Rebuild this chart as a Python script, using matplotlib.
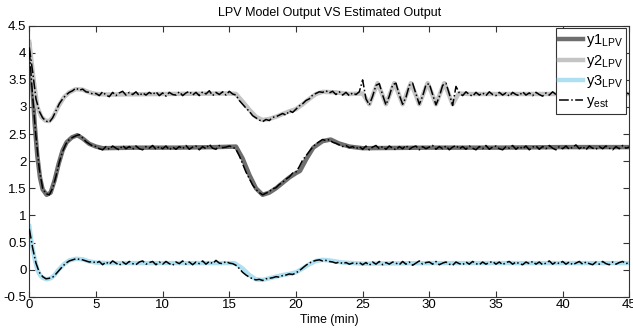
import numpy as np
import matplotlib
matplotlib.use("Agg")
import matplotlib.pyplot as plt

plt.rcParams['font.family'] = ['Liberation Sans', 'DejaVu Sans']
plt.rcParams['mathtext.fontset'] = 'custom'
plt.rcParams['mathtext.rm'] = 'Liberation Sans'
plt.rcParams['mathtext.it'] = 'Liberation Sans'

# ---- model outputs (keypoints) ----
t_y1 = [0, 0.2, 0.4, 0.6, 0.8, 1.0, 1.3, 1.6, 1.9, 2.2, 2.5, 2.8, 3.2, 3.6, 4.0, 4.5, 5.0,
        5.5, 8, 11, 14, 15.5, 16, 16.5, 17, 17.5, 18, 18.5, 19, 19.5, 20, 20.3, 20.8, 21.3,
        22, 22.6, 23.2, 24, 25, 30, 35, 40, 45]
y1 = [4.15, 3.5, 2.7, 2.1, 1.7, 1.48, 1.38, 1.42, 1.65, 1.95, 2.2, 2.35, 2.44, 2.48, 2.42,
      2.32, 2.27, 2.24, 2.25, 2.25, 2.26, 2.27, 2.05, 1.75, 1.5, 1.38, 1.42, 1.5, 1.6, 1.7,
      1.78, 1.82, 2.05, 2.25, 2.37, 2.4, 2.33, 2.27, 2.24, 2.25, 2.25, 2.26, 2.26]

t_y2 = [0, 0.3, 0.6, 0.9, 1.2, 1.5, 1.8, 2.2, 2.6, 3.0, 3.5, 4.0, 4.5, 5.0, 6, 10, 15, 15.5,
        16, 16.5, 17, 17.5, 18, 18.5, 19, 19.5, 20, 20.5, 21, 21.5, 22, 23, 24, 25,
        25.5, 25.81, 26.125, 26.44, 26.75, 27.06, 27.375, 27.69, 28.0, 28.31, 28.625, 28.94,
        29.25, 29.56, 29.875, 30.19, 30.5, 30.81, 31.125, 31.44, 31.75, 32.2, 33, 36, 40, 45]
y2 = [4.2, 3.55, 3.0, 2.82, 2.75, 2.74, 2.82, 3.02, 3.18, 3.27, 3.33, 3.32, 3.27, 3.24, 3.23,
      3.24, 3.25, 3.24, 3.1, 2.95, 2.82, 2.76, 2.78, 2.82, 2.87, 2.92, 2.96, 3.05, 3.15, 3.24,
      3.28, 3.27, 3.24, 3.25,
      3.05, 3.25, 3.44, 3.25, 3.05, 3.25, 3.44, 3.25, 3.05, 3.25, 3.44, 3.25,
      3.05, 3.25, 3.44, 3.25, 3.05, 3.25, 3.44, 3.25, 3.05, 3.25, 3.24, 3.24, 3.24, 3.24]

t_y3 = [0, 0.2, 0.4, 0.6, 0.8, 1.0, 1.3, 1.6, 1.9, 2.2, 2.6, 3.0, 3.5, 4.0, 4.5, 5.0, 6, 10,
        15.4, 16, 16.5, 17, 17.5, 18, 18.5, 19, 19.5, 20, 20.5, 21, 21.5, 22, 22.5, 23.5, 25,
        30, 35, 40, 45]
y3 = [0.8, 0.45, 0.2, 0.0, -0.1, -0.15, -0.18, -0.16, -0.1, 0.0, 0.1, 0.17, 0.2, 0.19, 0.15,
      0.13, 0.12, 0.12, 0.12, 0.02, -0.1, -0.18, -0.19, -0.16, -0.13, -0.1, -0.08, -0.05,
      0.02, 0.1, 0.16, 0.18, 0.17, 0.13, 0.11, 0.12, 0.12, 0.12, 0.12]

# ---- estimated outputs, sampled every 0.25 min (rows of 10 samples = 2.5 min) ----
t_est = np.arange(181) * 0.25
est2 = [4.10, 3.65, 3.15, 2.92, 2.80, 2.74, 2.72, 2.80, 2.93, 3.06,
        3.15, 3.22, 3.27, 3.30, 3.35, 3.31, 3.33, 3.28, 3.27, 3.24,
        3.25, 3.21, 3.28, 3.22, 3.19, 3.27, 3.21, 3.26, 3.29, 3.22,
        3.27, 3.23, 3.28, 3.21, 3.26, 3.22, 3.27, 3.23, 3.28, 3.21,
        3.26, 3.20, 3.27, 3.23, 3.22, 3.28, 3.21, 3.26, 3.29, 3.22,
        3.27, 3.21, 3.28, 3.24, 3.30, 3.21, 3.27, 3.23, 3.28, 3.22,
        3.29, 3.24, 3.22, 3.12, 3.05, 2.98, 2.92, 2.84, 2.80, 2.76,
        2.73, 2.77, 2.75, 2.81, 2.82, 2.85, 2.88, 2.85, 2.93, 2.90,
        2.96, 3.02, 3.06, 3.12, 3.15, 3.22, 3.25, 3.28, 3.27, 3.30,
        3.26, 3.29, 3.23, 3.28, 3.22, 3.27, 3.21, 3.26, 3.23, 3.28,
        3.50, 3.15, 3.04, 3.20, 3.40, 3.43, 3.22, 3.04, 3.20, 3.41,
        3.44, 3.22, 3.05, 3.18, 3.40, 3.44, 3.24, 3.05, 3.20, 3.41,
        3.43, 3.23, 3.04, 3.19, 3.40, 3.44, 3.24, 3.03, 3.38, 3.26,
        3.21, 3.28, 3.23, 3.20, 3.27, 3.22, 3.26, 3.21, 3.28, 3.23,
        3.21, 3.27, 3.22, 3.26, 3.20, 3.27, 3.23, 3.21, 3.28, 3.22,
        3.26, 3.21, 3.27, 3.23, 3.20, 3.26, 3.22, 3.28, 3.23, 3.21,
        3.27, 3.22, 3.26, 3.20, 3.27, 3.23, 3.21, 3.28, 3.22, 3.26,
        3.21, 3.27, 3.23, 3.20, 3.26, 3.22, 3.28, 3.23, 3.21, 3.26,
        3.24]
est1 = [4.05, 3.20, 2.45, 1.85, 1.50, 1.40, 1.38, 1.50, 1.72, 1.98,
        2.18, 2.32, 2.40, 2.44, 2.47, 2.49, 2.43, 2.36, 2.32, 2.28,
        2.27, 2.23, 2.21, 2.27, 2.22, 2.28, 2.24, 2.21, 2.29, 2.23,
        2.27, 2.22, 2.28, 2.23, 2.21, 2.27, 2.24, 2.29, 2.22, 2.27,
        2.23, 2.28, 2.21, 2.26, 2.22, 2.27, 2.23, 2.29, 2.22, 2.26,
        2.28, 2.21, 2.27, 2.23, 2.31, 2.24, 2.22, 2.29, 2.25, 2.26,
        2.28, 2.26, 2.22, 2.10, 1.95, 1.80, 1.68, 1.56, 1.48, 1.42,
        1.38, 1.41, 1.44, 1.49, 1.51, 1.57, 1.61, 1.67, 1.71, 1.78,
        1.80, 1.90, 2.02, 2.10, 2.18, 2.26, 2.32, 2.36, 2.40, 2.38,
        2.40, 2.35, 2.33, 2.30, 2.27, 2.29, 2.25, 2.27, 2.23, 2.27,
        2.22, 2.28, 2.21, 2.26, 2.29, 2.23, 2.27, 2.22, 2.28, 2.24,
        2.21, 2.27, 2.23, 2.29, 2.22, 2.26, 2.28, 2.21, 2.27, 2.23,
        2.26, 2.29, 2.22, 2.27, 2.23, 2.28, 2.21, 2.26, 2.29, 2.23,
        2.27, 2.22, 2.28, 2.24, 2.21, 2.27, 2.23, 2.29, 2.22, 2.26,
        2.28, 2.23, 2.21, 2.27, 2.24, 2.29, 2.22, 2.27, 2.23, 2.28,
        2.21, 2.26, 2.28, 2.22, 2.27, 2.23, 2.29, 2.24, 2.21, 2.27,
        2.23, 2.28, 2.22, 2.26, 2.30, 2.23, 2.27, 2.21, 2.28, 2.24,
        2.22, 2.27, 2.23, 2.28, 2.24, 2.21, 2.27, 2.23, 2.29, 2.24,
        2.26]
est3 = [0.75, 0.40, 0.12, -0.05, -0.13, -0.17, -0.16, -0.14, -0.08, -0.01,
        0.06, 0.12, 0.16, 0.18, 0.20, 0.19, 0.18, 0.16, 0.14, 0.15,
        0.12, 0.15, 0.09, 0.14, 0.10, 0.16, 0.12, 0.08, 0.14, 0.10,
        0.15, 0.11, 0.09, 0.14, 0.16, 0.10, 0.13, 0.15, 0.09, 0.14,
        0.10, 0.15, 0.11, 0.08, 0.14, 0.11, 0.16, 0.10, 0.14, 0.09,
        0.14, 0.11, 0.16, 0.10, 0.15, 0.11, 0.17, 0.12, 0.11, 0.15,
        0.12, 0.11, 0.08, 0.02, -0.05, -0.10, -0.14, -0.17, -0.19, -0.18,
        -0.20, -0.17, -0.16, -0.15, -0.13, -0.14, -0.11, -0.10, -0.08, -0.09,
        -0.06, -0.02, 0.03, 0.08, 0.12, 0.15, 0.17, 0.18, 0.16, 0.17,
        0.15, 0.14, 0.12, 0.14, 0.11, 0.13, 0.10, 0.12, 0.11, 0.13,
        0.09, 0.13, 0.08, 0.14, 0.10, 0.15, 0.09, 0.13, 0.10, 0.14,
        0.12, 0.09, 0.15, 0.10, 0.14, 0.08, 0.12, 0.16, 0.10, 0.13,
        0.14, 0.10, 0.15, 0.09, 0.12, 0.14, 0.10, 0.08, 0.14, 0.11,
        0.09, 0.14, 0.10, 0.15, 0.11, 0.09, 0.14, 0.10, 0.13, 0.15,
        0.10, 0.14, 0.09, 0.13, 0.15, 0.10, 0.14, 0.11, 0.09, 0.14,
        0.11, 0.15, 0.10, 0.14, 0.09, 0.12, 0.16, 0.10, 0.14, 0.11,
        0.15, 0.10, 0.14, 0.09, 0.12, 0.15, 0.10, 0.14, 0.11, 0.09,
        0.14, 0.10, 0.15, 0.11, 0.09, 0.14, 0.10, 0.13, 0.15, 0.11,
        0.13]

x_ticks = [0, 5, 10, 15, 20, 25, 30, 35, 40, 45]
x_ticklabels = ['0', '5', '10', '15', '20', '25', '30', '35', '40', '45']
y_ticks = [-0.5, 0, 0.5, 1, 1.5, 2, 2.5, 3, 3.5, 4, 4.5]
y_ticklabels = ['-0.5', '0', '0.5', '1', '1.5', '2', '2.5', '3', '3.5', '4', '4.5']

fig = plt.figure(figsize=(6.33, 3.31), dpi=100)
ax = fig.add_axes([29.3 / 633, 34.3 / 331, 600 / 633, 271 / 331])

ax.plot(t_y1, y1, color='#6e6e6e', lw=3.2, label=r'y1$_{\mathrm{LPV}}$', zorder=2)
ax.plot(t_y2, y2, color='#c4c4c4', lw=3.2, label=r'y2$_{\mathrm{LPV}}$', zorder=2)
ax.plot(t_y3, y3, color='#aee0f2', lw=3.2, label=r'y3$_{\mathrm{LPV}}$', zorder=2)
ax.plot(t_est, est1, color='black', lw=1.1, ls='-.', label=r'y$_{\mathrm{est}}$', zorder=3)
ax.plot(t_est, est2, color='black', lw=1.1, ls='-.', zorder=3)
ax.plot(t_est, est3, color='black', lw=1.1, ls='-.', zorder=3)

ax.set_xlim(0, 45)
ax.set_ylim(-0.5, 4.5)
ax.set_xticks(x_ticks)
ax.set_xticklabels(x_ticklabels)
ax.set_yticks(y_ticks)
ax.set_yticklabels(y_ticklabels)
ax.tick_params(direction='in', top=True, right=True, length=4, width=0.8,
               labelsize=9.5, colors='#333333', labelcolor='black', pad=2)
for s in ax.spines.values():
    s.set_color('#333333')
    s.set_linewidth(0.8)

ax.set_title('LPV Model Output VS Estimated Output', fontsize=9, pad=7)
ax.set_xlabel('Time (min)', fontsize=8.8, labelpad=1.5)

leg = ax.legend(loc='upper right', bbox_to_anchor=(0.995, 0.99), fontsize=10.5,
                handlelength=1.6, handletextpad=0.2, labelspacing=0.25,
                borderpad=0.25, borderaxespad=0.0, fancybox=False, framealpha=1)
leg.get_frame().set_edgecolor('#333333')
leg.get_frame().set_linewidth(0.8)

fig.savefig('out.png', dpi=100)
